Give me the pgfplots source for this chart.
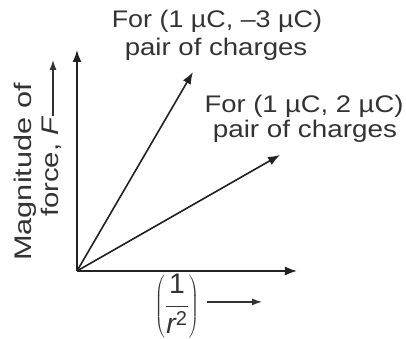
\documentclass[border=0pt]{standalone}
\usepackage{fontspec}
\setmainfont{Liberation Sans}
\usepackage{pgfplots}
\pgfplotsset{compat=1.18}
\usetikzlibrary{arrows.meta}
\definecolor{ink}{HTML}{222222}
\definecolor{txt}{HTML}{333333}
\newcommand{\lblsize}{\fontsize{24bp}{28bp}\selectfont}

\begin{document}
\begin{tikzpicture}[lbl/.style={text=txt, inner sep=0pt}]
\begin{axis}[
  scale only axis, width=220bp, height=221bp,
  xmin=0, xmax=1, ymin=0, ymax=1,
  axis lines*=left, xtick=\empty, ytick=\empty,
  axis line style={line width=1.6bp, ink, -{Latex[length=12bp,width=9bp]}},
  clip=false,
]
% canvas extent
\path (axis cs:-0.35,-0.3077) rectangle (axis cs:1.4955,1.2262);

% F grows linearly with 1/r^2; the slope is set by the product of the charges
\addplot[ink, line width=1.6bp, -{Latex[length=12bp,width=9bp]}]
  coordinates {(0,0) (0.527,0.900)};
\addplot[ink, line width=1.6bp, -{Latex[length=12bp,width=9bp]}]
  coordinates {(0,0) (0.923,0.525)};

% series labels
\node[lbl, anchor=base] at (axis cs:0.636,1.0995) {\lblsize\scalebox{1.12}[1]{For (1 µC, –3 µC)}};
\node[lbl, anchor=base] at (axis cs:0.632,0.977) {\lblsize\scalebox{1.15}[1]{pair of charges}};
\node[lbl, anchor=base] at (axis cs:1.032,0.715) {\lblsize\scalebox{1.14}[1]{For (1 µC, 2 µC)}};
\node[lbl, anchor=base] at (axis cs:1.036,0.606) {\lblsize\scalebox{1.16}[1]{pair of charges}};

% y label
\node[lbl, anchor=base, rotate=90] at (axis cs:-0.209,0.448) {\lblsize\scalebox{1.28}[1]{Magnitude of}};
\node[lbl, anchor=base west, rotate=90] at (axis cs:-0.086,0.244) {\lblsize\scalebox{1.22}[1]{force, \textit{F}}};
\draw[txt, line width=1.3bp, -{Latex[length=10bp,width=7bp]}] (axis cs:-0.109,0.70) -- (axis cs:-0.109,0.955);

% x label
\node[lbl] at (axis cs:0.4545,-0.160) {\scalebox{1.18}{\lblsize$\left(\displaystyle\frac{\mbox{\lblsize 1}}{\mbox{\lblsize\itshape r}^{\mbox{\fontsize{17bp}{17bp}\selectfont 2}}}\right)$}};
\draw[txt, line width=1.3bp, -{Latex[length=10bp,width=7bp]}] (axis cs:0.591,-0.140) -- (axis cs:0.841,-0.140);
\end{axis}
\end{tikzpicture}
\end{document}
